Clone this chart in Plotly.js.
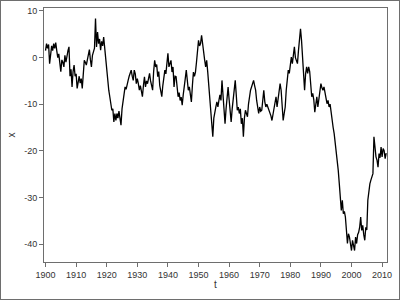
<!DOCTYPE html>
<html><head><meta charset="utf-8">
<script src="https://cdn.plot.ly/plotly-3.0.1.min.js"></script>
<style>html,body{margin:0;padding:0;background:#fff}#c{width:398px;height:298px;border:1px solid #6e6e6e}</style>
</head><body><div id="c"></div>
<script>
const startYear = 1900;
const perYear = 3;
const values = [
 1.5, 3.0, 2.0,   2.8, -1.3, 1.0,   2.5, 1.5, 3.0,   2.0, 3.2, 1.5,
 0.0, 0.8, -1.5,  -3.0, -0.5, -1.0,  -2.0, 0.5, -1.0,  0.5, 1.5, 2.3,
 -4.0, -2.5, -6.3, -3.0, -1.6, -4.0, -3.5, -6.6, -5.0, -4.0, -5.5, -4.5,
 -6.6, -3.0, -0.6, -1.0, -1.6, -0.5, 0.5, 1.7, -0.5, -2.0, 0.5, 1.6,
 2.0, 8.4, 2.3,   5.5, 3.0, 4.0,   1.6, 3.5, 2.5,   4.4, 2.0, -1.3,
 -3.0, -5.6, -7.0, -8.4, -9.5, -11.3, -11.0, -13.8, -12.0, -13.5, -12.0, -13.0,
 -11.5, -13.5, -14.5, -11.0, -9.0, -7.0, -6.3, -6.8, -5.5, -4.9, -4.0, -3.4,
 -2.7, -4.0, -4.9, -2.7, -3.5, -5.6, -4.5, -5.6, -7.0, -6.0, -7.5, -8.4,
 -6.0, -4.1, -6.3, -5.0, -5.6, -4.0, -3.4, -5.0, -6.0, -7.0, -3.0, -0.6,
 -2.0, -1.5, -4.1, -3.0, -6.0, -7.0, -8.4, -6.0, -4.1, -2.7, -3.5, -1.0,
 0.9, -2.0, -1.0, -0.6, -3.1, -2.0, -6.3, -4.0, -4.1, -6.5, -8.4, -7.5,
 -9.2, -8.5, -10.2, -8.0, -5.6, -4.5, -2.7, -5.0, -7.0, -6.3, -8.0, -9.5,
 -6.0, -3.1, -4.0, -3.1, -1.0, 2.3, 3.7, 2.5, 3.0, 4.8, 2.5, 1.6,
 -0.5, -2.0, -0.6, -3.0, -5.6, -8.0, -10.6, -12.7, -17.0, -13.0, -11.3, -10.6,
 -9.5, -10.6, -9.2, -8.0, -9.2, -4.9, -8.0, -11.3, -14.2, -11.0, -9.2, -6.3,
 -9.0, -12.0, -13.8, -11.0, -9.2, -7.0, -4.9, -8.0, -11.3, -10.6, -12.0, -11.0,
 -14.2, -13.0, -17.0, -13.0, -11.3, -12.0, -12.7, -10.0, -7.7, -7.0, -6.3, -5.5,
 -4.9, -6.0, -7.0, -9.2, -10.5, -12.0, -10.6, -11.5, -11.3, -9.0, -7.0, -9.5,
 -10.6, -10.0, -10.6, -11.5, -12.0, -12.5, -13.5, -12.0, -11.3, -9.5, -8.4, -10.6,
 -9.0, -7.0, -5.6, -7.0, -9.5, -13.5, -12.0, -10.6, -7.0, -4.9, -2.7, -3.4,
 -2.0, 0.1, -1.3, 1.0, 2.3, 0.0, -0.5, -1.3, 1.5, 3.7, 6.2, 3.7,
 -0.6, -4.0, -7.0, -3.5, -2.0, -3.4, -2.0, -3.0, -5.6, -8.4, -7.7, -9.0,
 -11.7, -9.2, -8.4, -10.6, -9.0, -6.7, -5.6, -6.5, -7.0, -6.3, -7.5, -8.5,
 -9.9, -9.2, -10.6, -10.0, -12.0, -13.5, -15.0, -16.3, -18.0, -19.9, -22.0, -24.2,
 -27.0, -29.2, -32.8, -30.6, -33.5, -33.0, -34.2, -37.0, -39.9, -37.8, -38.5, -40.0,
 -41.4, -39.2, -40.5, -41.4, -38.5, -39.9, -38.0, -37.5, -36.4, -34.2, -37.1, -36.0,
 -38.0, -39.2, -36.4, -37.0, -30.6, -28.5, -27.1, -26.3, -25.5, -24.9, -17.0, -20.0,
 -21.3, -22.0, -23.5, -20.6, -21.5, -19.2, -21.3, -19.5, -20.0, -21.7, -20.5
];
const xTicks = [1900,1910,1920,1930,1940,1950,1960,1970,1980,1990,2000,2010];
const yTicks = [10,0,-10,-20,-30,-40];
const yTickText = ['10','0','-10','-20','-30','-40'];

const t = values.map((v,i)=> startYear + i/perYear);
const tickFont = {family:'Arial, Liberation Sans, sans-serif', size:9, color:'#333'};
Plotly.newPlot('c', [{
  x: t, y: values, type:'scatter', mode:'lines',
  line:{color:'#000', width:1.3}, hoverinfo:'skip'
}], {
  width:398, height:298,
  margin:{l:43, r:12, t:7, b:37},
  paper_bgcolor:'#fff', plot_bgcolor:'#fff', showlegend:false,
  xaxis:{range:[1899.5,2011.6], tickvals:xTicks, ticks:'outside', ticklen:4, tickcolor:'#6e6e6e',
    showline:true, mirror:true, linecolor:'#6e6e6e', linewidth:1, showgrid:false, zeroline:false,
    tickfont:tickFont, title:{text:'t', font:{family:'Arial, Liberation Sans, sans-serif', size:10, color:'#333'}, standoff:2}},
  yaxis:{range:[-43.86,10.64], tickvals:yTicks, ticktext:yTickText, ticks:'outside', ticklen:4, tickcolor:'#6e6e6e',
    showline:true, mirror:true, linecolor:'#6e6e6e', linewidth:1, showgrid:false, zeroline:false,
    tickfont:tickFont, title:{text:'x', font:{family:'Arial, Liberation Sans, sans-serif', size:10, color:'#333'}, standoff:6}}
}, {staticPlot:true});
</script></body></html>
